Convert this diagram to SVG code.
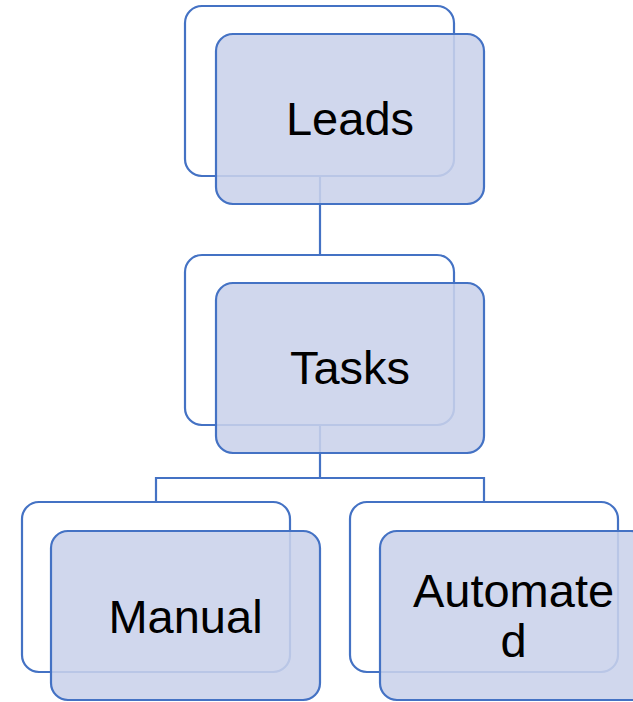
<svg xmlns="http://www.w3.org/2000/svg" width="633" height="702" viewBox="0 0 633 702">
<style>
.back{fill:#ffffff;stroke:#4472C4;stroke-width:2.2}
.front{fill:#CAD2EA;fill-opacity:0.88;stroke:#4472C4;stroke-width:2.2}
.conn{fill:none;stroke:#4472C4;stroke-width:2.2}
text{font-family:"Liberation Sans",Arial,sans-serif;font-size:47px;fill:#000;text-anchor:middle}
</style>
<rect width="633" height="702" fill="#ffffff"/>
<g id="connectors">
<path class="conn" d="M320,176 V255"/>
<path class="conn" d="M320,425 V478 M156,502 V478 H484 V502"/>
</g>
<g id="node-leads">
<rect class="back" x="185" y="6" width="269" height="170" rx="17"/>
<rect class="front" x="216" y="34" width="268" height="170" rx="17"/>
<text x="350" y="135">Leads</text>
</g>
<g id="node-tasks">
<rect class="back" x="185" y="255" width="269" height="170" rx="17"/>
<rect class="front" x="216" y="283" width="268" height="170" rx="17"/>
<text x="350" y="384">Tasks</text>
</g>
<g id="node-manual">
<rect class="back" x="22" y="502" width="268" height="170" rx="17"/>
<rect class="front" x="51" y="531" width="269" height="169" rx="17"/>
<text x="185.5" y="633">Manual</text>
</g>
<g id="node-automated">
<rect class="back" x="350" y="502" width="268" height="170" rx="17"/>
<rect class="front" x="380" y="531" width="268" height="169" rx="17"/>
<text x="513.5" y="607">Automate</text>
<text x="513.5" y="657">d</text>
</g>
</svg>
